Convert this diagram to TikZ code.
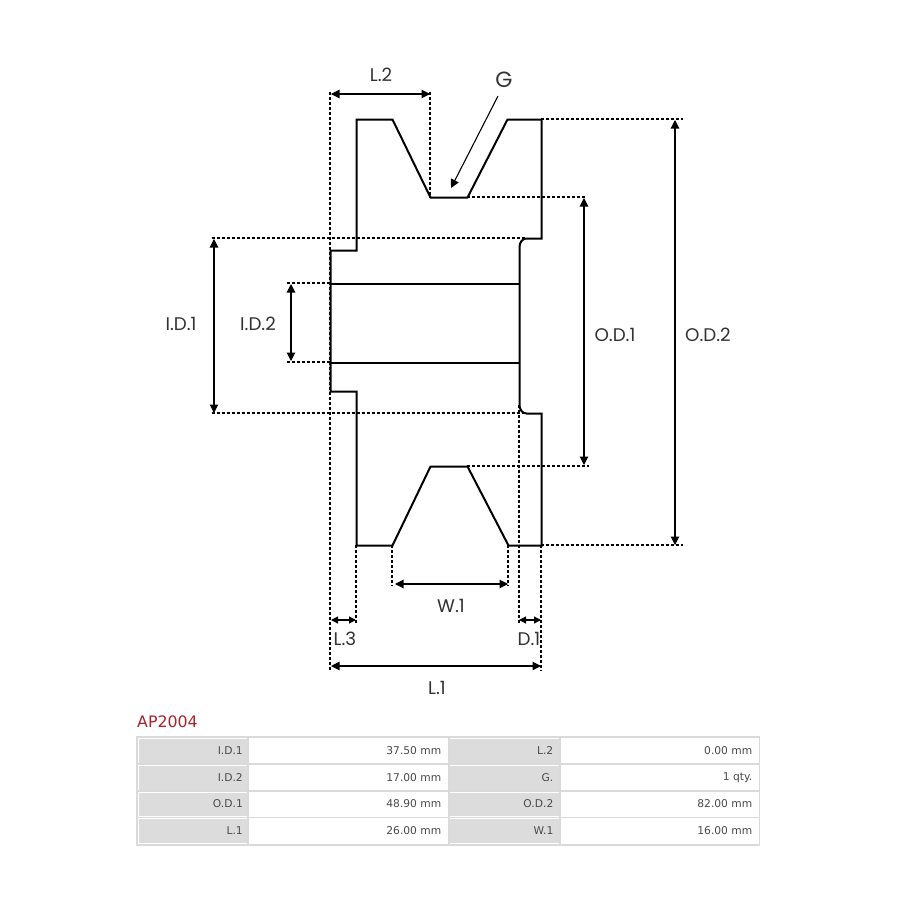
\documentclass[tikz,border=0pt]{standalone}
\usepackage{fontspec}
\setmainfont{Poppins}
\newfontfamily\tablefont{DejaVu Sans}
\usetikzlibrary{arrows.meta}
\definecolor{dimtext}{HTML}{333333}
\definecolor{cellgray}{HTML}{DCDCDC}
\definecolor{gridgray}{HTML}{DADADA}
\definecolor{celltext}{HTML}{4A4A4A}
\definecolor{titlered}{HTML}{A8232E}
\tikzset{
  outline/.style={line width=2pt,line join=miter,black},
  hidden/.style={line width=1.6pt,dash pattern=on 3pt off 2pt,black,transform canvas={xshift=-.5pt,yshift=.5pt}},
  dimline/.style={line width=1.1pt,{Triangle[length=8.5pt,width=8.5pt]}-{Triangle[length=8.5pt,width=8.5pt]}},
  smalldim/.style={line width=1.1pt,{Triangle[length=7pt,width=7pt]}-{Triangle[length=7pt,width=7pt]}},
  dimlabel/.style={font=\fontsize{18.3}{20}\selectfont,text=dimtext,inner sep=0pt},
  celllabel/.style={font=\tablefont\fontsize{10.7}{12}\selectfont,text=celltext,anchor=east,inner sep=0pt},
}

\begin{document}
\begin{tikzpicture}[x=1pt,y=-1pt]
    \useasboundingbox (0,0) rectangle (900,900);
    \fill[white] (0,0) rectangle (900,900);
    % outline points
    \coordinate (a1) at (330.5,250.5);
    \coordinate (a2) at (356.5,250.5);
    \coordinate (a3) at (356.5,119.5);
    \coordinate (a4) at (392.5,119.5);
    \coordinate (a5) at (430.5,197.5);
    \coordinate (a6) at (467.5,197.5);
    \coordinate (a7) at (507.5,119.5);
    \coordinate (a8) at (541.5,119.5);
    \coordinate (a9) at (541.5,238.5);
    \coordinate (a10) at (526.5,238.5);
    \coordinate (a11) at (519.5,247);
    \coordinate (a12) at (519.5,405);
    \coordinate (a13) at (526.5,413.5);
    \coordinate (a14) at (541.5,413.5);
    \coordinate (b1) at (541.5,545.5);
    \coordinate (b2) at (508.5,545.5);
    \coordinate (b3) at (467.5,466.5);
    \coordinate (b4) at (430.5,466.5);
    \coordinate (b5) at (392.5,545.5);
    \coordinate (b6) at (356.5,545.5);
    \coordinate (b7) at (356.5,391.5);
    \coordinate (b8) at (330.5,391.5);
    \coordinate (c1) at (330.5,283.5);
    \coordinate (c2) at (519.5,283.5);
    \coordinate (c3) at (330.5,362.5);
    \coordinate (c4) at (519.5,362.5);
    \draw[outline] (a1) -- (a2) -- (a3) -- (a4) -- (a5) -- (a6) -- (a7) -- (a8) -- (a9) -- (a10)
      to[out=180,in=90] (a11) -- (a12) to[out=-90,in=180] (a13) -- (a14) -- (b1) -- (b2) -- (b3)
      -- (b4) -- (b5) -- (b6) -- (b7) -- (b8) -- cycle;
    \draw[outline] (c1) -- (c2);
    \draw[outline] (c3) -- (c4);
    % dashed end points
    \coordinate (l2a) at (330.5,92);
    \coordinate (l2b) at (430.5,92);
    \coordinate (l1a) at (330.5,671);
    \coordinate (l1b) at (541.5,671);
    \coordinate (l3b) at (356.5,623);
    \coordinate (d1a) at (519.5,623);
    \coordinate (w1a) at (392.5,586);
    \coordinate (w1b) at (508.5,586);
    \coordinate (od2a) at (683,119.5);
    \coordinate (od2b) at (683,545.5);
    \coordinate (od1a) at (586,197.5);
    \coordinate (od1b) at (589,466.5);
    \coordinate (id1a) at (212,238.5);
    \coordinate (id1b) at (212,413.5);
    \coordinate (id2a) at (287,283.5);
    \coordinate (id2b) at (287,362.5);
    \draw[hidden] (l2a) -- (l1a);
    \draw[hidden] (l2b) -- (a5);
    \draw[hidden] (b1) -- (l1b);
    \draw[hidden] (b6) -- (l3b);
    \draw[hidden] (a12) -- (d1a);
    \draw[hidden] (b5) -- (w1a);
    \draw[hidden] (b2) -- (w1b);
    \draw[hidden] (a8) -- (od2a);
    \draw[hidden] (b1) -- (od2b);
    \draw[hidden] (a6) -- (od1a);
    \draw[hidden] (b3) -- (od1b);
    \draw[hidden] (id1a) -- (a10);
    \draw[hidden] (id1b) -- (a13);
    \draw[hidden] (id2a) -- (c1);
    \draw[hidden] (id2b) -- (c3);
    % dimension arrows
    \draw[dimline] (331,94) coordinate (p1) -- (430,94) coordinate (p2);
    \draw[dimline] (331,666) coordinate (p3) -- (541,666) coordinate (p4);
    \draw[dimline] (395,584) coordinate (p5) -- (508,584) coordinate (p6);
    \draw[dimline] (675,120) coordinate (p7) -- (675,545) coordinate (p8);
    \draw[dimline] (584,198) coordinate (p9) -- (584,465) coordinate (p10);
    \draw[dimline] (214,239) coordinate (p11) -- (214,413) coordinate (p12);
    \draw[dimline] (291,284) coordinate (p13) -- (291,361) coordinate (p14);
    \draw[smalldim] (331,620) coordinate (p15) -- (356,620) coordinate (p16);
    \draw[smalldim] (519,620) coordinate (p17) -- (541,620) coordinate (p18);
    \draw[line width=1.1pt,-{Triangle[length=8.5pt,width=8.5pt]}] (498,96) coordinate (g1) -- (451,188) coordinate (g2);
    % labels
    \node[dimlabel] (l2) at (381,75) {L.2};
    \node[dimlabel,font=\fontsize{22}{24}\selectfont] (g) at (504,80) {G};
    \node[dimlabel] (id1) at (181,324) {I.D.1};
    \node[dimlabel] (id2) at (258,324) {I.D.2};
    \node[dimlabel] (od1) at (615,335) {O.D.1};
    \node[dimlabel] (od2) at (708,335) {O.D.2};
    \node[dimlabel] (w1) at (451,606) {W.1};
    \node[dimlabel] (l3) at (345,639) {L.3};
    \node[dimlabel] (d1) at (529,639) {D.1};
    \node[dimlabel] (l1) at (437,688) {L.1};
    % table
    \node[font=\tablefont\fontsize{15.8}{18}\selectfont,text=titlered,anchor=west,inner sep=0pt] (title) at (137,722) {AP2004};
    \draw[gridgray,line width=1.5pt] (137,737) rectangle (759.5,845);
    \draw[gridgray,line width=1.5pt] (248,737) -- (248,845);
    \draw[gridgray,line width=1.5pt] (449,737) -- (449,845);
    \draw[gridgray,line width=1.5pt] (560,737) -- (560,845);
    \foreach \ypos/\labA/\valA/\labB/\valB in {
        750.5/I.D.1/37.50 mm/L.2/0.00 mm,
        777.5/I.D.2/17.00 mm/G./1 qty.,
        804/O.D.1/48.90 mm/O.D.2/82.00 mm,
        830.5/L.1/26.00 mm/W.1/16.00 mm}{
      \fill[cellgray] (139,\ypos-11.5) rectangle (247,\ypos+12);
      \fill[cellgray] (450,\ypos-11.5) rectangle (559,\ypos+12);
      \node[celllabel] at (243,\ypos) {\labA};
      \node[celllabel] at (441.5,\ypos) {\valA};
      \node[celllabel] at (553.5,\ypos) {\labB};
      \node[celllabel] at (752.5,\ypos) {\valB};
    }
    \foreach \ypos in {764,791,817.5}{
      \draw[gridgray,line width=1.5pt] (137,\ypos) -- (759.5,\ypos);
    }
\end{tikzpicture}
\end{document}
